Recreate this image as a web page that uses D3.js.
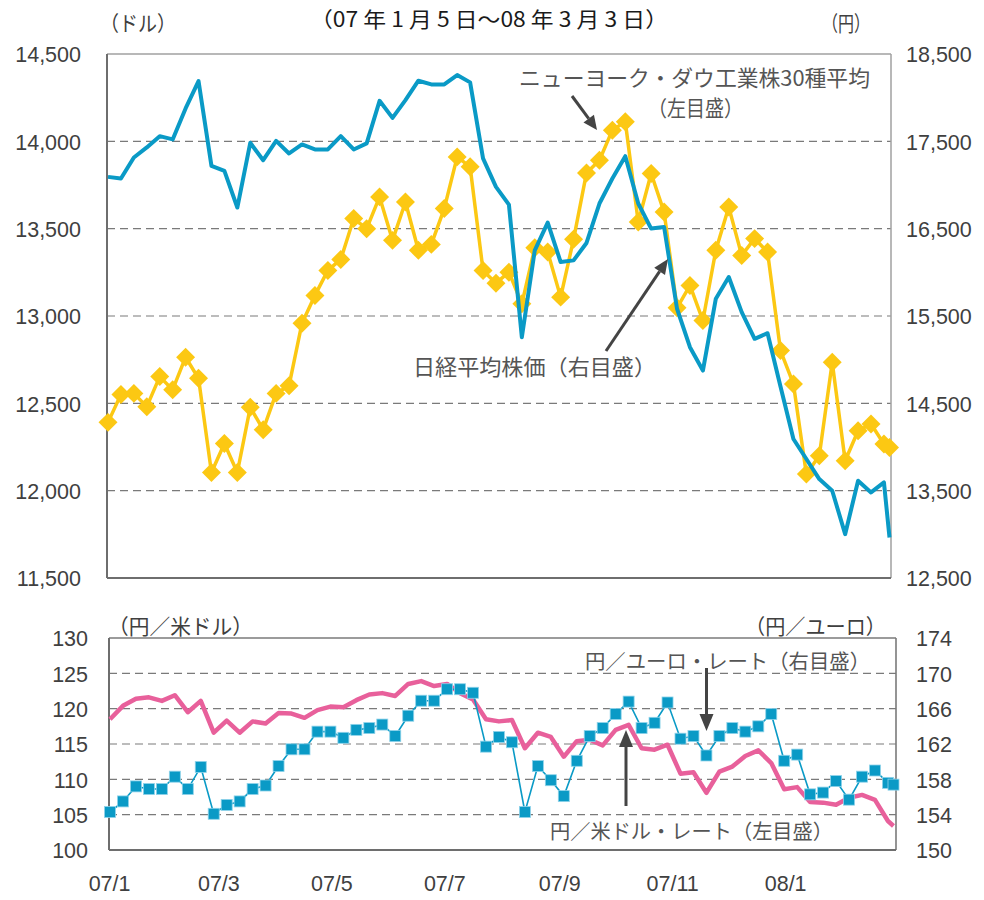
<!DOCTYPE html>
<html><head><meta charset="utf-8">
<script src="https://cdn.jsdelivr.net/npm/d3@7"></script>
<style>body{margin:0;background:#fff;} svg{display:block;}</style>
</head><body>
<svg id="c" width="984" height="900"></svg>
<script>
// ---------- data ----------
const dates = ["2007-01-05","2007-01-12","2007-01-19","2007-01-26","2007-02-02","2007-02-09","2007-02-16","2007-02-23",
"2007-03-02","2007-03-09","2007-03-16","2007-03-23","2007-03-30","2007-04-06","2007-04-13","2007-04-20","2007-04-27",
"2007-05-04","2007-05-11","2007-05-18","2007-05-25","2007-06-01","2007-06-08","2007-06-15","2007-06-22","2007-06-29",
"2007-07-06","2007-07-13","2007-07-20","2007-07-27","2007-08-03","2007-08-10","2007-08-17","2007-08-24","2007-08-31",
"2007-09-07","2007-09-14","2007-09-21","2007-09-28","2007-10-05","2007-10-12","2007-10-19","2007-10-26",
"2007-11-02","2007-11-09","2007-11-16","2007-11-23","2007-11-30","2007-12-07","2007-12-14","2007-12-21","2007-12-28",
"2008-01-04","2008-01-11","2008-01-18","2008-01-25","2008-02-01","2008-02-08","2008-02-15","2008-02-22","2008-02-29","2008-03-03"];

const dow = [12391,12550,12557,12481,12653,12578,12764,12643,12104,12270,
12104,12477,12349,12557,12601,12959,13118,13261,13324,13558,
13500,13682,13433,13653,13376,13410,13615,13911,13854,13261,
13188,13251,13070,13391,13366,13108,13439,13819,13892,14064,
14112,13538,13816,13595,13047,13175,12974,13376,13624,13347,
13443,13366,12802,12611,12095,12200,12735,12171,12343,12382,
12267,12247];

const nikkei = [17093,17074,17315,17430,17559,17522,17877,18190,17219,17161,
16742,17483,17284,17506,17361,17464,17407,17407,17559,17407,
17476,17964,17769,17972,18194,18152,18152,18259,18175,17304,
16978,16776,15257,16252,16570,16118,16137,16336,16788,17074,
17330,16788,16501,16519,15583,15143,14875,15698,15946,15544,
15239,15303,14692,14092,13863,13633,13499,13002,13614,13480,
13594,12963];

const usdjpy = [118.5,120.4,121.4,121.6,121.1,121.9,119.5,121.1,116.6,118.3,
116.6,118.2,117.9,119.4,119.3,118.7,119.8,120.3,120.2,121.2,
122.0,122.2,121.8,123.5,123.9,123.2,123.5,122.2,121.3,118.5,
118.2,118.4,114.4,116.6,116.0,113.2,115.4,115.6,114.8,117.0,
117.7,114.4,114.2,114.9,110.8,111.0,108.1,111.1,111.8,113.3,
114.1,112.3,108.6,108.9,106.8,106.7,106.4,107.4,107.8,107.1,
104.1,103.4];

const eurjpy = [154.3,155.5,157.2,156.9,156.9,158.3,156.9,159.4,154.1,155.1,
155.5,156.9,157.3,159.5,161.4,161.4,163.4,163.4,162.7,163.6,
163.8,164.2,162.9,165.2,166.9,166.9,168.2,168.2,167.8,161.7,
162.8,162.2,154.3,159.5,157.9,156.1,160.1,162.9,163.8,165.4,
166.8,163.8,164.4,166.7,162.6,162.9,160.7,162.9,163.8,163.4,
164.0,165.4,160.1,160.8,156.3,156.5,157.8,155.7,158.3,159.0,
157.6,157.4];

const dowTicks = [11500,12000,12500,13000,13500,14000,14500];
const nikkeiTicks = [12500,13500,14500,15500,16500,17500,18500];
const usdTicks = [100,105,110,115,120,125,130];
const eurTicks = [150,154,158,162,166,170,174];
const monthTicks = ["2007-01-01","2007-03-01","2007-05-01","2007-07-01","2007-09-01","2007-11-01","2008-01-01"];
const monthLabels = ["07/1","07/3","07/5","07/7","07/9","07/11","08/1"];

// ---------- setup ----------
const parse = d3.utcParse("%Y-%m-%d");
const D = dates.map(parse);
const svg = d3.select("#c");
const NUM = "'Liberation Sans', Arial, sans-serif";
const JP = "'Noto Sans CJK JP', sans-serif";
const TXT = "#404040", ANN = "#555";
const BLUE = "#0A9AC6", GOLD = "#FCC813", PINK = "#E8609B";

// top panel
const T = {l:107, r:891, t:54, b:578};
const xT = d3.scaleUtc().domain([D[0], D[D.length-1]]).range([108, 889.5]);
const yL = d3.scaleLinear().domain([11500,14500]).range([T.b, T.t]);
const yR = d3.scaleLinear().domain([12500,18500]).range([T.b, T.t]);

// bottom panel
const B = {l:109, r:896, t:638, b:850};
const xB = d3.scaleUtc().domain([D[0], D[D.length-1]]).range([110, 893.5]);
const yBL = d3.scaleLinear().domain([100,130]).range([B.b, B.t]);
const yBR = d3.scaleLinear().domain([150,174]).range([B.b, B.t]);

function grid(vals, y, P) {
  svg.append("g").selectAll("line").data(vals).join("line")
    .attr("x1", P.l).attr("x2", P.r)
    .attr("y1", d => y(d)).attr("y2", d => y(d))
    .attr("stroke", "#7a7a7a").attr("stroke-width", 1.2)
    .attr("stroke-dasharray", "8,5");
}
grid([12000,12500,13000,13500,14000], yL, T);
grid([105,110,115,120,125], yBL, B);

// frames
function frame(P, lightTR) {
  const g = svg.append("g");
  g.append("line").attr("x1",P.l).attr("x2",P.r).attr("y1",P.t).attr("y2",P.t)
    .attr("stroke", lightTR ? "#a0a0a0" : "#7a7a7a").attr("stroke-width", lightTR?1.5:1.6);
  g.append("line").attr("x1",P.r).attr("x2",P.r).attr("y1",P.t).attr("y2",P.b)
    .attr("stroke", lightTR ? "#a0a0a0" : "#7a7a7a").attr("stroke-width", lightTR?1.5:1.6);
  g.append("line").attr("x1",P.l).attr("x2",P.l).attr("y1",P.t).attr("y2",P.b)
    .attr("stroke","#6e6e6e").attr("stroke-width",2);
  g.append("line").attr("x1",P.l).attr("x2",P.r).attr("y1",P.b).attr("y2",P.b)
    .attr("stroke","#6e6e6e").attr("stroke-width",2);
}
frame(T, true);
frame(B, false);

// axes (labels only)
function styleAxis(g) {
  g.select(".domain").remove();
  g.selectAll(".tick line").remove();
  g.selectAll("text").attr("fill", TXT).style("font-family", NUM).style("font-size", "21.5px");
}
svg.append("g").attr("transform","translate(81,1)")
  .call(d3.axisLeft(yL).tickValues(dowTicks).tickFormat(d3.format(",")).tickSize(0).tickPadding(0))
  .call(styleAxis);
svg.append("g").attr("transform","translate(906,1)")
  .call(d3.axisRight(yR).tickValues(nikkeiTicks).tickFormat(d3.format(",")).tickSize(0).tickPadding(0))
  .call(styleAxis);
svg.append("g").attr("transform","translate(88,1)")
  .call(d3.axisLeft(yBL).tickValues(usdTicks).tickFormat(d3.format("d")).tickSize(0).tickPadding(0))
  .call(styleAxis);
svg.append("g").attr("transform","translate(916,1)")
  .call(d3.axisRight(yBR).tickValues(eurTicks).tickFormat(d3.format("d")).tickSize(0).tickPadding(0))
  .call(styleAxis);
const mt = monthTicks.map(d => d3.utcHour.offset(parse(d), 84));
svg.append("g").attr("transform","translate(0,876)")
  .call(d3.axisBottom(xB).tickValues(mt).tickFormat((d,i) => monthLabels[i]).tickSize(0).tickPadding(0))
  .call(styleAxis);

// ---------- top series ----------
svg.append("path").datum(dow)
  .attr("d", d3.line().x((d,i) => xT(D[i])).y(d => yL(d)))
  .attr("fill","none").attr("stroke",GOLD).attr("stroke-width",3.5).attr("stroke-linejoin","round");
svg.append("g").selectAll("path").data(dow).join("path")
  .attr("d", d3.symbol(d3.symbolSquare, 180)())
  .attr("transform",(d,i) => `translate(${xT(D[i])},${yL(d)}) rotate(45)`)
  .attr("fill",GOLD);
svg.append("path").datum(nikkei)
  .attr("d", d3.line().x((d,i) => xT(D[i])).y(d => yR(d)))
  .attr("fill","none").attr("stroke",BLUE).attr("stroke-width",4).attr("stroke-linejoin","round");

// ---------- bottom series ----------
svg.append("path").datum(usdjpy)
  .attr("d", d3.line().x((d,i) => xB(D[i])).y(d => yBL(d)))
  .attr("fill","none").attr("stroke",PINK).attr("stroke-width",4.5).attr("stroke-linejoin","round");
svg.append("path").datum(eurjpy)
  .attr("d", d3.line().x((d,i) => xB(D[i])).y(d => yBR(d)))
  .attr("fill","none").attr("stroke",BLUE).attr("stroke-width",1.6);
svg.append("g").selectAll("rect").data(eurjpy).join("rect")
  .attr("x",(d,i) => xB(D[i]) - 5.5).attr("y", d => yBR(d) - 5.5)
  .attr("width",11).attr("height",11)
  .attr("fill",BLUE).attr("stroke","#8fd3ea").attr("stroke-width",0.8);

// ---------- text ----------
function txt(x, y, s, size, anchor, fill, len) {
  const t = svg.append("text").attr("x",x).attr("y",y).attr("text-anchor",anchor||"start")
    .attr("fill",fill||TXT).style("font-family",JP).style("font-size",size+"px").text(s);
  if (len) t.attr("textLength", len).attr("lengthAdjust", "spacingAndGlyphs");
  return t;
}
txt(310, 27, "（07 年 1 月 5 日〜08 年 3 月 3 日）", 21, "start", "#1a1a1a", 358);
txt(100, 31, "（ドル）", 21, "start", TXT, 76);
txt(822, 31, "（円）", 21, "start", TXT, 48);
txt(108, 634, "（円／米ドル）", 21, "start", TXT, 145);
txt(745, 634, "（円／ユーロ）", 21, "start", TXT, 141);

txt(519, 86, "ニューヨーク・ダウ工業株30種平均", 21.5, "start", ANN, 351);
txt(648, 116, "（左目盛）", 21.5, "start", ANN, 95);
txt(413, 375, "日経平均株価（右目盛）", 21.5, "start", ANN, 243);
txt(585, 669, "円／ユーロ・レート（右目盛）", 20.5, "start", ANN, 285);
txt(550, 839, "円／米ドル・レート（左目盛）", 20.5, "start", ANN, 283);

// arrows
function arrow(x1,y1,x2,y2,len,w) {
  const a = Math.atan2(y2-y1, x2-x1);
  const bx = x2 - len*Math.cos(a), by = y2 - len*Math.sin(a);
  const px = -Math.sin(a)*w/2, py = Math.cos(a)*w/2;
  svg.append("line").attr("x1",x1).attr("y1",y1).attr("x2",bx).attr("y2",by)
    .attr("stroke","#444").attr("stroke-width",3);
  svg.append("path").attr("d",`M${x2},${y2}L${bx+px},${by+py}L${bx-px},${by-py}Z`).attr("fill","#444");
}
arrow(572, 96, 597, 130, 14, 13);
arrow(606, 351, 668, 259, 15, 13);
arrow(706.5, 668, 706.5, 731, 17, 14);
arrow(626, 806, 626, 730, 17, 14);
</script>
</body></html>
